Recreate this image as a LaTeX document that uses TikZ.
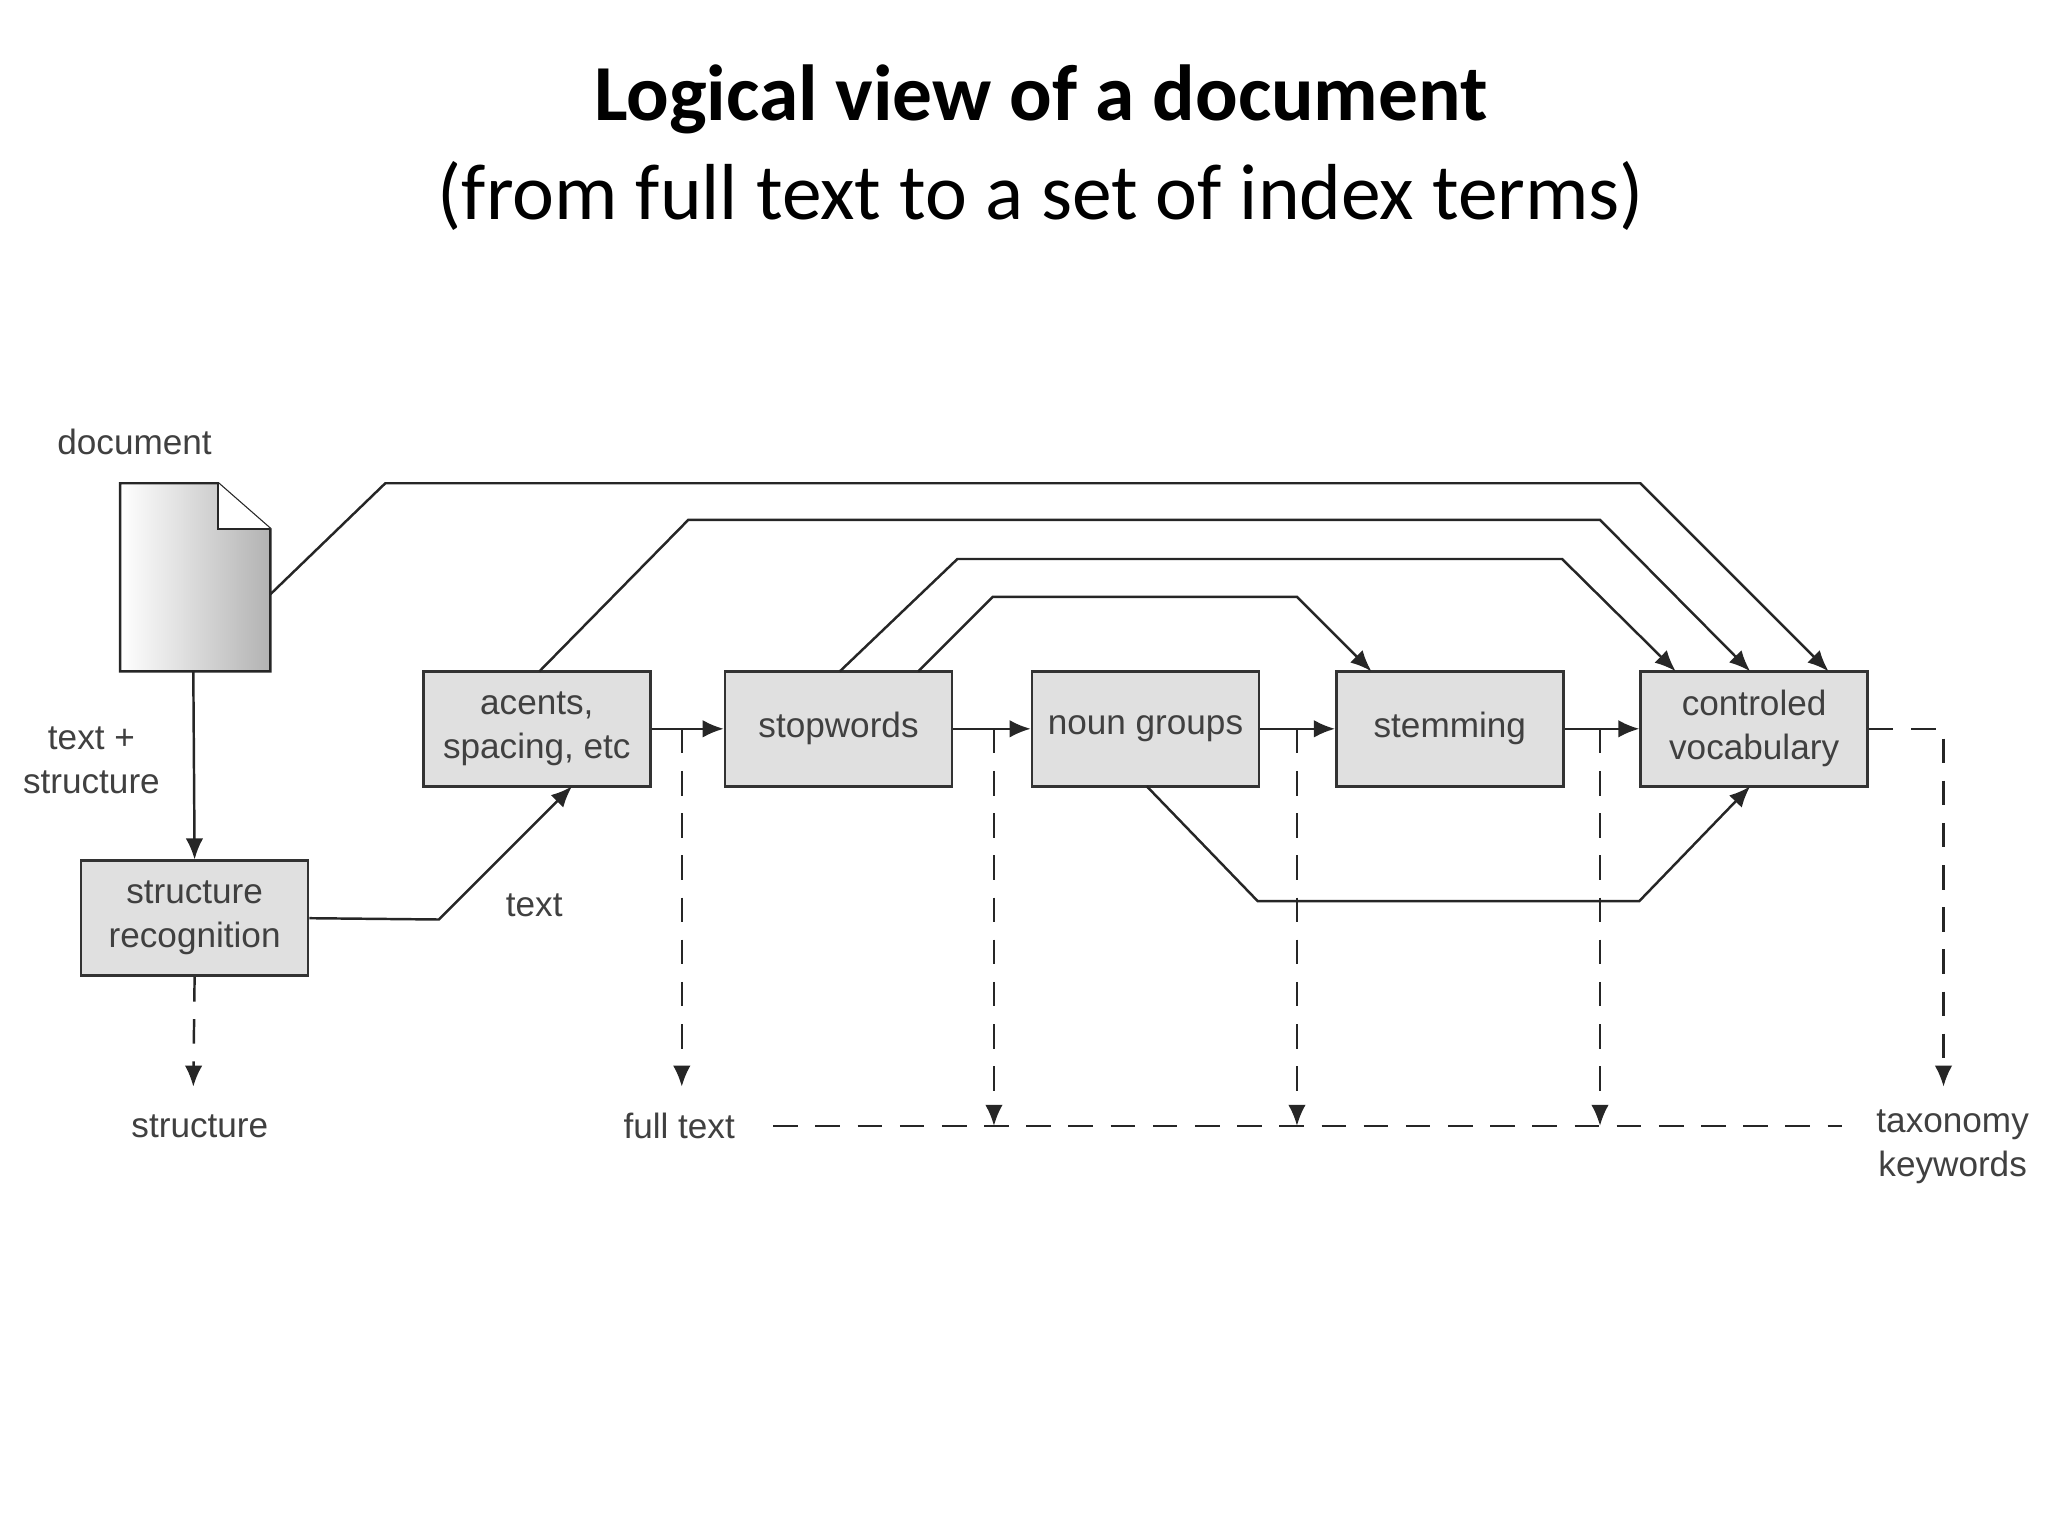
\documentclass[tikz,border=0pt]{standalone}
\usepackage{fontspec}
\setmainfont{Liberation Sans}
\newfontfamily\titlefont{Carlito}
\usetikzlibrary{arrows.meta}
\begin{document}
\begin{tikzpicture}[x=0.01306cm,y=-0.01306cm,
  box/.style={draw=black!80,fill=black!12,minimum width=2.27cm,minimum height=1.15cm,inner sep=1pt,align=center,font=\fontsize{10}{12.5}\selectfont,text=black!75,line width=0.7pt},
  lbl/.style={font=\fontsize{10}{12.5}\selectfont,text=black!75,align=center},
  ln/.style={draw=black!85,line width=0.7pt},
  arr/.style={ln,-{Latex[length=6pt,width=5pt]}},
  dsh/.style={ln,dash pattern=on 7pt off 5pt},
  darr/.style={dsh,-{Latex[length=6pt,width=5pt]}}]
\useasboundingbox (0,0) rectangle (1568,1176);
\node[font=\titlefont\bfseries\fontsize{22.6}{27}\selectfont] (title) at (797,76) {Logical view of a document};
\node[font=\titlefont\fontsize{22.6}{27}\selectfont] (subtitle) at (797,150) {(from full text to a set of index terms)};
% document icon
\shade[left color=white,right color=black!30,draw=black!85,line width=0.7pt] (92,370) -- (167,370) -- (207,405) -- (207,514) -- (92,514) -- cycle;
\draw[ln,fill=white] (167,370) -- (167,405) -- (207,405);
\coordinate (docR) at (207,455);
\coordinate (docB) at (148,514);
\node[lbl] (doclbl) at (103,338) {document};
\node[lbl] (ts) at (70,582) {text +\\structure};
\node[box] (sr) at (149,703) {structure\\recognition};
\node[box] (ac) at (411,558) {acents,\\spacing, etc};
\node[box] (sw) at (642,558) {stopwords};
\node[box] (ng) at (877,558) {noun groups};
\node[box] (st) at (1110,558) {stemming};
\node[box] (cv) at (1343,558) {controled\\vocabulary};
\node[lbl] (txt) at (409,693) {text};
\node[lbl] (structure) at (153,862) {structure};
\node[lbl] (ft) at (520,862) {full text};
\node[lbl] (tk) at (1495,878) {taxonomy\\keywords};
% main flow
\draw[arr] (docB) -- (sr.north);
\draw[arr] (sr.east) -- (336,704) -- (438,602);
\draw[arr] (ac.east) -- (sw.west);
\draw[arr] (sw.east) -- (ng.west);
\draw[arr] (ng.east) -- (st.west);
\draw[arr] (st.east) -- (cv.west);
% bypasses
\draw[arr] (docR) -- (295,370) -- (1256,370) -- (1400,514);
\draw[arr] (413,514) -- (527,398) -- (1225,398) -- (1340,514);
\draw[arr] (643,514) -- (733,428) -- (1196,428) -- (1283,514);
\draw[arr] (703,514) -- (760,457) -- (993,457) -- (1050,514);
\draw[arr] (878,602) -- (963,690) -- (1255,690) -- (1340,602);
% dashed outputs
\draw[darr] (sr.south) -- (148,832);
\draw[darr] (522,558) -- (522,832);
\draw[darr] (761,558) -- (761,862);
\draw[darr] (993,558) -- (993,862);
\draw[darr] (1225,558) -- (1225,862);
\draw[dsh] (592,862) -- (1410,862);
\draw[darr] (cv.east) -- (1488,558) -- (1488,832);
\end{tikzpicture}
\end{document}
